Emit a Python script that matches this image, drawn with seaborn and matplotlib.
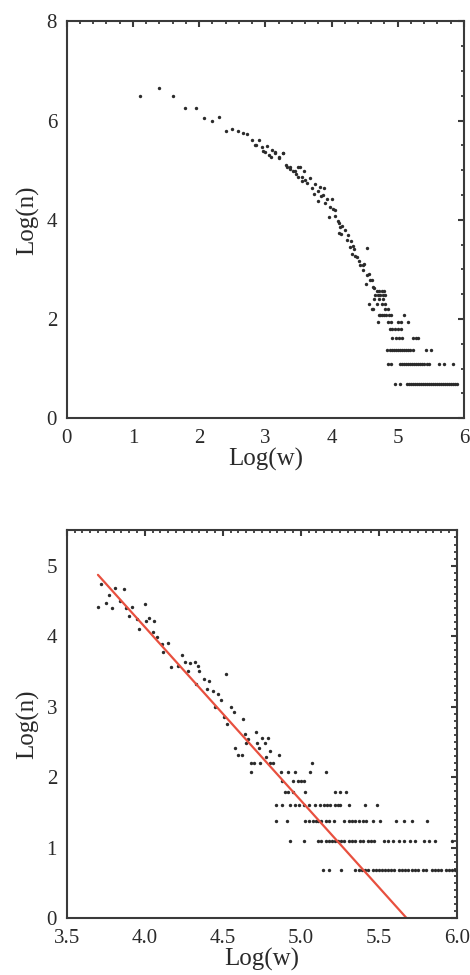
import numpy as np
import pandas as pd
import matplotlib
matplotlib.use("Agg")
import matplotlib.pyplot as plt
from matplotlib.ticker import MultipleLocator, FormatStrFormatter
import seaborn as sns

# ---------------- data: top panel (full range) ----------------
top_x_curve = [1.10, 1.39, 1.61, 1.79, 1.95, 2.08, 2.20, 2.30, 2.41, 2.50, 2.59, 2.66,
               2.73, 2.80, 2.91, 2.86, 2.96, 3.03, 3.08, 3.14, 3.20, 3.27, 3.33, 3.38,
               3.45, 3.52, 3.49, 3.56, 3.60, 2.84, 2.95, 3.00, 3.06, 3.10, 3.15, 3.21,
               3.26, 3.32, 3.37, 3.42, 3.47, 3.50, 3.55, 3.59, 3.63, 3.67, 3.70, 3.73,
               3.75, 3.79, 3.80, 3.84, 3.88, 3.90, 3.93, 3.98, 4.03, 4.05, 4.10, 4.13,
               4.15, 4.20, 4.23, 4.25, 4.28, 4.31, 4.34, 4.38, 4.41, 4.43, 4.47, 4.49,
               4.53, 4.53, 4.58, 4.62, 3.82, 3.87, 4.00, 4.06, 3.96, 4.11, 4.16, 4.11,
               4.29, 4.32, 4.36, 4.48, 4.56, 4.61, 4.52, 4.64]
top_y_curve = [6.49, 6.65, 6.50, 6.26, 6.26, 6.05, 6.00, 6.08, 5.79, 5.83, 5.79, 5.76,
               5.73, 5.61, 5.61, 5.51, 5.38, 5.48, 5.26, 5.34, 5.25, 5.35, 5.07, 5.02,
               4.99, 5.06, 4.86, 4.78, 4.80, 5.51, 5.46, 5.36, 5.31, 5.40, 5.36, 5.26,
               5.34, 5.10, 5.06, 4.99, 4.92, 5.06, 4.86, 4.98, 4.75, 4.85, 4.65, 4.52,
               4.73, 4.59, 4.39, 4.49, 4.65, 4.33, 4.43, 4.25, 4.22, 4.08, 3.98, 3.85,
               3.72, 3.79, 3.59, 3.69, 3.45, 3.31, 3.42, 3.25, 3.18, 3.08, 2.98, 3.12,
               3.43, 2.88, 2.78, 2.64, 4.67, 4.50, 4.42, 4.19, 4.05, 3.93, 3.87, 3.73,
               3.58, 3.48, 3.28, 3.08, 2.91, 2.78, 2.71, 2.62]

# discrete levels log(n) in the tail, with the log(w) positions on each level
top_levels = {
    2.565: [4.68, 4.72, 4.76, 4.80],
    2.485: [4.66, 4.70, 4.74, 4.78, 4.81],
    2.398: [4.64, 4.72, 4.78],
    2.303: [4.57, 4.68, 4.76, 4.81],
    2.197: [4.61, 4.63, 4.81, 4.86],
    2.079: [4.71, 4.74, 4.77, 4.80, 4.83, 4.87, 4.90, 5.10],
    1.946: [4.70, 4.85, 4.90, 5.00, 5.05, 5.16],
    1.792: [4.88, 4.92, 4.96, 5.00, 5.05],
    1.609: [4.92, 4.97, 5.02, 5.07, 5.23, 5.27, 5.30],
    1.386: [4.84, 4.88, 4.92, 4.95, 4.98, 5.01, 5.04, 5.07, 5.10, 5.13, 5.16,
            5.19, 5.23, 5.43, 5.51],
    1.099: [4.85, 4.90, 5.03, 5.06, 5.09, 5.12, 5.15, 5.18, 5.21, 5.24, 5.27,
            5.30, 5.33, 5.36, 5.40, 5.44, 5.48, 5.62, 5.70, 5.84],
    0.693: [4.96, 5.03, 5.14, 5.17, 5.20, 5.23, 5.26, 5.29, 5.32, 5.35, 5.38,
            5.41, 5.44, 5.47, 5.50, 5.53, 5.56, 5.59, 5.62, 5.65, 5.68, 5.71,
            5.74, 5.77, 5.80, 5.83, 5.86, 5.90],
}

# ---------------- data: bottom panel (tail, x >= 3.7) ----------------
bot_x_scatter = [3.70, 3.72, 3.75, 3.77, 3.79, 3.81, 3.84, 3.87, 3.88, 3.90, 3.92, 3.95,
                 3.96, 4.00, 4.01, 4.03, 4.06, 4.05, 4.08, 4.11, 4.12, 4.15, 4.17, 4.21,
                 4.24, 4.26, 4.28, 4.29, 4.32, 4.34, 4.33, 4.35, 4.38, 4.40, 4.41, 4.44,
                 4.45, 4.47, 4.49, 4.51, 4.52, 4.53, 4.55, 4.57, 4.58, 4.60, 4.62, 4.63,
                 4.64, 4.65, 4.66, 4.71, 4.72, 4.73, 4.75, 4.77, 4.78, 4.79, 4.80, 4.86]
bot_y_scatter = [4.42, 4.74, 4.47, 4.59, 4.40, 4.68, 4.50, 4.67, 4.40, 4.28, 4.41, 4.25,
                 4.10, 4.46, 4.22, 4.26, 4.22, 4.06, 3.99, 3.89, 3.77, 3.90, 3.56, 3.58,
                 3.73, 3.63, 3.51, 3.62, 3.63, 3.58, 3.33, 3.51, 3.40, 3.25, 3.37, 3.23,
                 3.00, 3.18, 3.09, 2.85, 3.47, 2.76, 3.00, 2.92, 2.41, 2.31, 2.31, 2.83,
                 2.62, 2.48, 2.55, 2.64, 2.48, 2.41, 2.56, 2.48, 2.29, 2.56, 2.38, 2.31]

bot_levels = {
    2.197: [4.68, 4.70, 4.74, 4.80, 4.82, 5.07],
    2.079: [4.68, 4.87, 4.92, 4.96, 5.06, 5.16],
    1.946: [4.88, 4.95, 4.98, 5.00, 5.02],
    1.792: [4.90, 4.92, 4.95, 5.03, 5.22, 5.25, 5.29],
    1.609: [4.84, 4.88, 4.93, 4.96, 4.99, 5.02, 5.05, 5.09, 5.12, 5.15, 5.17,
            5.19, 5.22, 5.24, 5.25, 5.31, 5.41, 5.49],
    1.386: [4.84, 4.91, 5.03, 5.05, 5.08, 5.10, 5.11, 5.13, 5.16, 5.18, 5.21,
            5.28, 5.31, 5.33, 5.35, 5.37, 5.40, 5.42, 5.46, 5.51, 5.61, 5.66,
            5.71, 5.81],
    1.099: [4.93, 5.02, 5.11, 5.13, 5.16, 5.18, 5.20, 5.22, 5.24, 5.26, 5.28,
            5.31, 5.33, 5.35, 5.38, 5.40, 5.43, 5.45, 5.47, 5.53, 5.56, 5.59,
            5.63, 5.66, 5.70, 5.73, 5.79, 5.82, 5.86, 5.97],
    0.693: [5.14, 5.18, 5.26, 5.35, 5.37, 5.39, 5.41, 5.43, 5.46, 5.48, 5.50,
            5.52, 5.54, 5.56, 5.58, 5.60, 5.63, 5.65, 5.67, 5.69, 5.71, 5.73,
            5.75, 5.78, 5.80, 5.84, 5.86, 5.88, 5.90, 5.93, 5.95, 5.97, 5.99],
}

# fitted power-law line (end points)
fit_x = [3.70, 5.68]
fit_y = [4.87, 0.00]


def build(xs, ys, levels):
    rows = list(zip(xs, ys))
    for lvl, xv in levels.items():
        rows += [(x, lvl) for x in xv]
    return pd.DataFrame(rows, columns=["logw", "logn"])


top_df = build(top_x_curve, top_y_curve, top_levels)
bot_df = build(bot_x_scatter, bot_y_scatter, bot_levels)
fit_df = pd.DataFrame({"logw": fit_x, "logn": fit_y})

sns.set_theme(style="white")
plt.rcParams["font.family"] = ["Liberation Serif", "DejaVu Serif"]
plt.rcParams["axes.edgecolor"] = "#3a3a3a"
plt.rcParams["axes.linewidth"] = 1.5

fig = plt.figure(figsize=(4.7, 9.75), dpi=100)
ax1 = fig.add_axes([0.142, 0.571, 0.845, 0.407])
ax2 = fig.add_axes([0.142, 0.058, 0.830, 0.398])

dot_color = "#2b2b2b"
sns.scatterplot(data=top_df, x="logw", y="logn", ax=ax1, s=6, color=dot_color,
                linewidth=0, legend=False)
sns.scatterplot(data=bot_df, x="logw", y="logn", ax=ax2, s=6, color=dot_color,
                linewidth=0, legend=False)
sns.lineplot(data=fit_df, x="logw", y="logn", ax=ax2, color="#e8503f",
             linewidth=1.6, legend=False)

ax1.set_xlim(0, 6)
ax1.set_ylim(0, 8)
ax1.xaxis.set_major_locator(MultipleLocator(1))
ax1.xaxis.set_minor_locator(MultipleLocator(0.2))
ax1.yaxis.set_major_locator(MultipleLocator(2))
ax1.yaxis.set_minor_locator(MultipleLocator(0.5))

ax2.set_xlim(3.5, 6.0)
ax2.set_ylim(0, 5.5)
ax2.xaxis.set_major_locator(MultipleLocator(0.5))
ax2.xaxis.set_minor_locator(MultipleLocator(0.05))
ax2.xaxis.set_major_formatter(FormatStrFormatter("%.1f"))
ax2.yaxis.set_major_locator(MultipleLocator(1))
ax2.yaxis.set_minor_locator(MultipleLocator(0.1))

for ax in (ax1, ax2):
    ax.set_facecolor("white")
    ax.tick_params(which="both", direction="in", top=True, right=True,
                   color="#3a3a3a", labelsize=15, labelcolor="#2a2a2a")
    ax.tick_params(which="major", length=4, width=1.5)
    ax.tick_params(which="minor", length=2.4, width=1.3)
    ax.tick_params(axis="x", which="major", pad=7.5)
    ax.tick_params(axis="y", which="major", pad=7)
    ax.set_xlabel("Log(w)", fontsize=18, color="#2a2a2a", labelpad=0)
    ax.set_ylabel("Log(n)", fontsize=18, color="#2a2a2a", labelpad=5)

fig.savefig("out.png", dpi=100, facecolor="white")
